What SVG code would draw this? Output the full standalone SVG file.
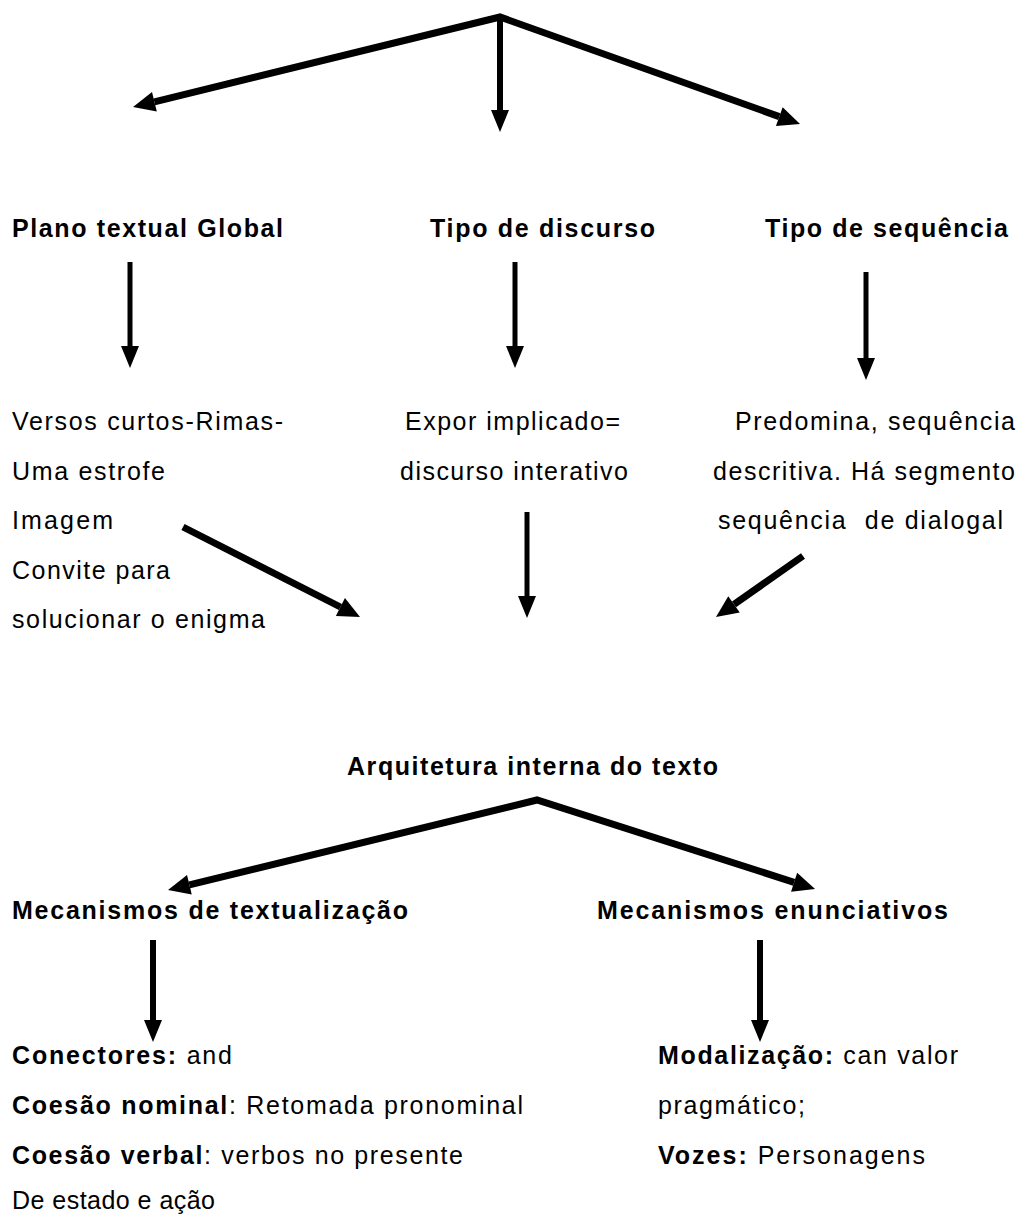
<svg xmlns="http://www.w3.org/2000/svg" width="1017" height="1216" viewBox="0 0 1017 1216">
  <style>
    text { font-family: "Liberation Sans", Arial, sans-serif; font-size: 25px; fill: #000; white-space: pre; }
    .b { font-weight: bold; }
    .ln { fill: none; stroke: #000; stroke-linejoin: miter; stroke-linecap: butt; }
  </style>
  <defs>
    <marker id="head" markerUnits="userSpaceOnUse" viewBox="0 -11 23 22" refX="0" refY="0" markerWidth="23" markerHeight="22" orient="auto-start-reverse" overflow="visible">
      <path d="M0,-10 L22,0 L0,10 Z" fill="#000"/>
    </marker>
    <marker id="headv" markerUnits="userSpaceOnUse" viewBox="0 -10 23 20" refX="0" refY="0" markerWidth="23" markerHeight="20" orient="auto" overflow="visible">
      <path d="M0,-9 L22,0 L0,9 Z" fill="#000"/>
    </marker>
  </defs>
  <rect width="1017" height="1216" fill="#fff"/>

  <g id="connectors">
    <!-- top fan -->
    <path class="ln" stroke-width="7" d="M154.4,101.8 L500,17 L779.3,116.6" marker-start="url(#head)" marker-end="url(#head)"/>
    <path class="ln" stroke-width="6" d="M500,18 L500,110" marker-end="url(#headv)"/>
    <!-- column arrows -->
    <path class="ln" stroke-width="5" d="M130,262 L130,346" marker-end="url(#headv)"/>
    <path class="ln" stroke-width="5" d="M515,262 L515,346" marker-end="url(#headv)"/>
    <path class="ln" stroke-width="5" d="M866,272 L866,358" marker-end="url(#headv)"/>
    <!-- converging arrows -->
    <path class="ln" stroke-width="7" d="M183,527 L340.4,607" marker-end="url(#head)"/>
    <path class="ln" stroke-width="5" d="M527,512 L527,596" marker-end="url(#headv)"/>
    <path class="ln" stroke-width="7" d="M803,556 L734,604.4" marker-end="url(#head)"/>
    <!-- lower fan -->
    <path class="ln" stroke-width="7" d="M189.4,884.8 L537,800 L794.1,882.3" marker-start="url(#head)" marker-end="url(#head)"/>
    <path class="ln" stroke-width="6" d="M153,940 L153,1020" marker-end="url(#headv)"/>
    <path class="ln" stroke-width="6" d="M760,940 L760,1020" marker-end="url(#headv)"/>
  </g>

  <g id="plano-textual">
    <text class="b" x="12" y="237" textLength="271">Plano textual Global</text>
  </g>
  <g id="tipo-discurso">
    <text class="b" x="430" y="237" textLength="225">Tipo de discurso</text>
  </g>
  <g id="tipo-sequencia">
    <text class="b" x="765" y="237" textLength="243">Tipo de sequência</text>
  </g>

  <g id="plano-detalhes">
    <text x="12" y="430" textLength="271">Versos curtos-Rimas-</text>
    <text x="12" y="480" textLength="153">Uma estrofe</text>
    <text x="12" y="529" textLength="101">Imagem</text>
    <text x="12" y="579" textLength="158">Convite para</text>
    <text x="12" y="628" textLength="253">solucionar o enigma</text>
  </g>
  <g id="discurso-detalhes">
    <text x="405" y="430" textLength="215">Expor implicado=</text>
    <text x="400" y="480" textLength="228">discurso interativo</text>
  </g>
  <g id="sequencia-detalhes">
    <text x="735" y="430" textLength="280">Predomina, sequência</text>
    <text x="713" y="480" textLength="302">descritiva. Há segmento</text>
    <text x="718" y="529" textLength="285">sequência  de dialogal</text>
  </g>

  <g id="arquitetura">
    <text class="b" x="347" y="775" textLength="371">Arquitetura interna do texto</text>
  </g>
  <g id="mec-textualizacao">
    <text class="b" x="12" y="919" textLength="396">Mecanismos de textualização</text>
  </g>
  <g id="mec-enunciativos">
    <text class="b" x="597" y="919" textLength="351">Mecanismos enunciativos</text>
  </g>

  <g id="textualizacao-detalhes">
    <text x="12" y="1064" textLength="220"><tspan class="b">Conectores:</tspan> and</text>
    <text x="12" y="1114" textLength="511"><tspan class="b">Coesão nominal</tspan>: Retomada pronominal</text>
    <text x="12" y="1164" textLength="451"><tspan class="b">Coesão verbal</tspan>: verbos no presente</text>
    <text x="12" y="1209" textLength="203">De estado e ação</text>
  </g>
  <g id="enunciativos-detalhes">
    <text x="658" y="1064" textLength="300"><tspan class="b">Modalização:</tspan> can valor</text>
    <text x="658" y="1114" textLength="147">pragmático;</text>
    <text x="658" y="1164" textLength="267"><tspan class="b">Vozes:</tspan> Personagens</text>
  </g>
</svg>
